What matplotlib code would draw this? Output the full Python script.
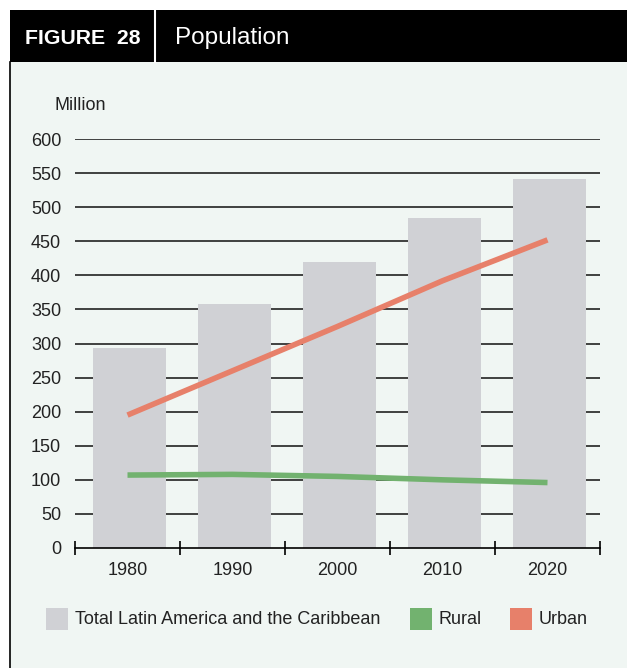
import numpy as np
import matplotlib.pyplot as plt
from matplotlib.patches import Rectangle
from matplotlib.lines import Line2D

plt.rcParams['font.family'] = ['Liberation Sans', 'DejaVu Sans']

years = ['1980', '1990', '2000', '2010', '2020']
total = [293, 358, 420, 484, 541]
urban = [195, 260, 325, 392, 452]
rural = [107, 108, 105, 100, 96]
yticks = list(range(0, 601, 50))

bg = '#f0f6f3'
c_bar = '#d0d1d5'
c_rural = '#72b26f'
c_urban = '#e7806a'
txt = '#222222'

W, H = 627, 668
fig = plt.figure(figsize=(W/100, H/100), dpi=100)
fig.patch.set_facecolor('white')

# panel + header (behind the axes)
fig.patches.append(Rectangle((10/W, 0), 1, (H-62)/H, transform=fig.transFigure,
                             facecolor=bg, edgecolor='none', zorder=-5))
fig.add_artist(Line2D([10/W, 10/W], [0, (H-62)/H], color='black', lw=1.2, zorder=-4))
fig.patches.append(Rectangle((10/W, (H-62)/H), 1, 52/H, transform=fig.transFigure,
                             facecolor='black', edgecolor='none', zorder=-5))
fig.add_artist(Line2D([155/W, 155/W], [(H-62)/H, (H-10)/H], color='white', lw=1.5))
fig.text(25/W, (H-38)/H, 'FIGURE  28', color='white', fontsize=15.3, fontweight='bold', va='center')
fig.text(175/W, (H-38)/H, 'Population', color='white', fontsize=17.5, va='center')

ax = fig.add_axes([75/W, 120/H, 525/W, 409/H])
ax.set_facecolor('none')
x = np.arange(len(years))

for yv in yticks[1:]:
    ax.axhline(yv, color=txt, lw=1.2, zorder=1)
ax.bar(x + 0.02, total, width=0.7, color=c_bar, zorder=2)
ax.plot(x, rural, color=c_rural, lw=4, zorder=3, solid_capstyle='butt')
ax.plot(x, urban, color=c_urban, lw=4, zorder=3, solid_capstyle='butt')

ax.set_xlim(-0.5, 4.5)
ax.set_ylim(0, 600)
for s in ['left', 'right', 'top']:
    ax.spines[s].set_visible(False)
ax.spines['bottom'].set_color('black')
ax.spines['bottom'].set_linewidth(1.2)
ax.spines['bottom'].set_zorder(4)

ax.set_yticks(yticks)
ax.tick_params(axis='y', length=0, pad=10, labelsize=13, labelcolor=txt)
ax.set_xticks(x)
ax.set_xticklabels(years)
ax.tick_params(axis='x', which='major', length=0, pad=10, labelsize=13, labelcolor=txt)
ax.set_xticks(np.arange(-0.5, 5, 1), minor=True)
ax.tick_params(axis='x', which='minor', length=10, direction='inout', width=1.2, color='black')

fig.text(55/W, (H-105)/H, 'Million', fontsize=13, color=txt, va='center')

# legend
ly = (H-619)/H
items = [(46, c_bar, 'Total Latin America and the Caribbean'),
         (410, c_rural, 'Rural'),
         (510, c_urban, 'Urban')]
for px, col, lab in items:
    fig.patches.append(Rectangle((px/W, ly-11/H), 22/W, 22/H, transform=fig.transFigure,
                                 facecolor=col, edgecolor='none'))
    fig.text((px+29)/W, ly, lab, fontsize=13, color=txt, va='center')

fig.savefig('out.png', dpi=100, facecolor=fig.get_facecolor())
